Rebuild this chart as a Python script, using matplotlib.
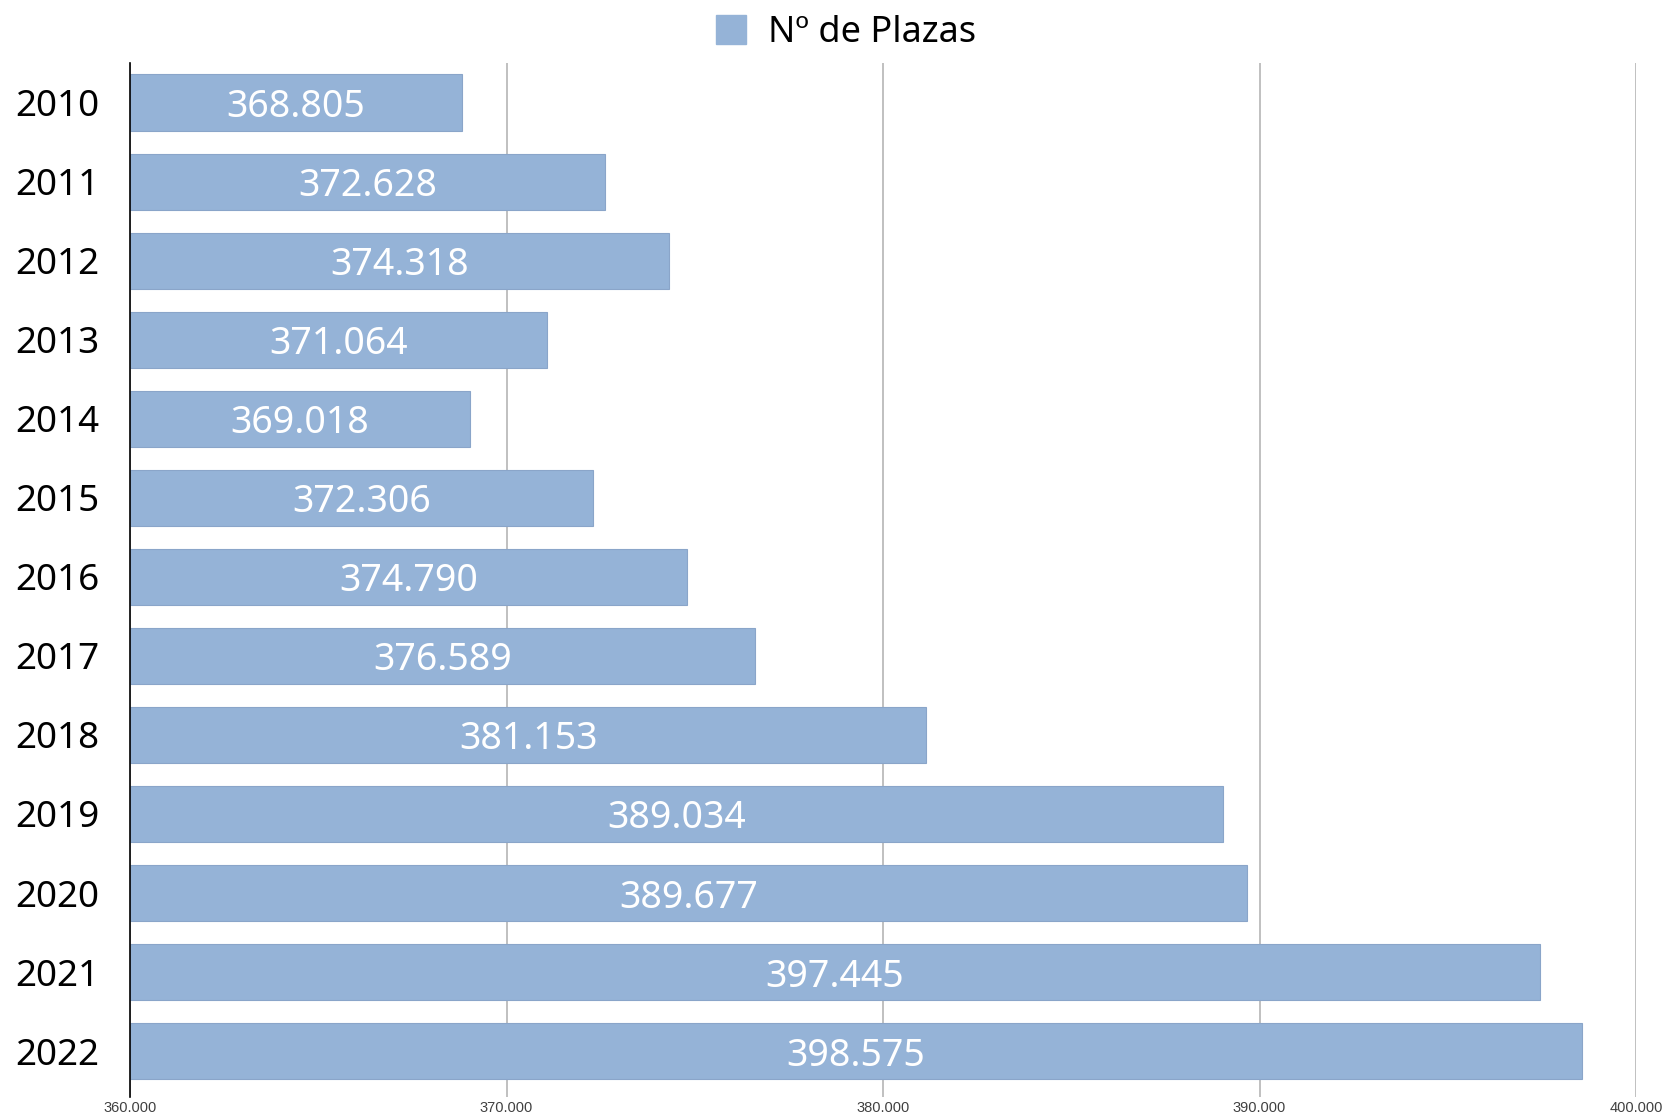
import matplotlib.pyplot as plt
from matplotlib.patches import Patch
from matplotlib.ticker import FixedLocator, FuncFormatter

years = ["2010", "2011", "2012", "2013", "2014", "2015", "2016",
         "2017", "2018", "2019", "2020", "2021", "2022"]
plazas = [368805, 372628, 374318, 371064, 369018, 372306, 374790,
          376589, 381153, 389034, 389677, 397445, 398575]
x_ticks = [360000, 370000, 380000, 390000, 400000]
series_name = "Nº de Plazas"

BAR_COLOR = "#95b3d7"
BASE = 360000


def es_thousands(v, _pos=None):
    return f"{int(v):,}".replace(",", ".")


fig = plt.figure(figsize=(16.62, 11.13), dpi=100)
ax = fig.add_axes([130 / 1662, 1 - 1097 / 1113, (1636 - 130) / 1662, (1097 - 63) / 1113])

pos = list(range(len(years)))
widths = [v - BASE for v in plazas]
ax.barh(pos, widths, left=BASE, height=0.71, color=BAR_COLOR,
        edgecolor="#8aa5c9", linewidth=0.8, zorder=3)

for p, v in zip(pos, plazas):
    ax.text((BASE + v) / 2, p, es_thousands(v), ha="center", va="center_baseline",
            color="white", fontsize=27, family="Noto Sans", zorder=4)

ax.set_xlim(BASE, 400000)
ax.set_ylim(12.58, -0.5)
ax.xaxis.set_major_locator(FixedLocator(x_ticks))
ax.xaxis.set_major_formatter(FuncFormatter(es_thousands))
ax.set_yticks(pos)
ax.set_yticklabels(years, fontsize=26.5, family="Noto Sans", color="black")
for lbl in ax.get_yticklabels():
    lbl.set_verticalalignment("center_baseline")
ax.tick_params(axis="y", length=0, pad=22)
ax.tick_params(axis="x", length=0, pad=3, labelsize=10.5, labelcolor="#404040")
for lbl in ax.get_xticklabels():
    lbl.set_family("Liberation Sans")

ax.grid(axis="x", color="#c0c0c0", linewidth=1.4, zorder=0)
ax.set_axisbelow(True)
for side in ("top", "right", "bottom"):
    ax.spines[side].set_visible(False)
ax.spines["left"].set_color("black")
ax.spines["left"].set_linewidth(1.2)
ax.spines["left"].set_zorder(5)

handle = Patch(facecolor=BAR_COLOR, edgecolor=BAR_COLOR)
fig.legend([handle], [series_name], loc="center", bbox_to_anchor=(0.509, 0.970),
           frameon=False, prop={"family": "Noto Sans", "size": 26},
           handlelength=0.85, handleheight=0.85, handletextpad=0.6)

fig.savefig("out.png", dpi=100)
